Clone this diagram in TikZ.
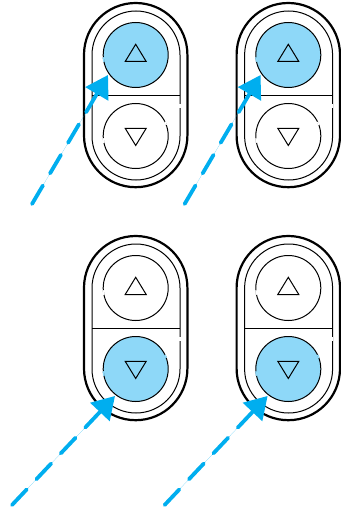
\documentclass[tikz,border=0pt]{standalone}
\usetikzlibrary{arrows.meta}
\definecolor{lightb}{HTML}{8ED8F8}
\definecolor{cyanb}{HTML}{00AEEF}
\tikzset{
  x=1pt,y=-1pt,
  outerbody/.style={draw=black,line width=2.2pt,fill=white},
  thinl/.style={draw=black,line width=1pt},
  btn/.style={circle,draw=black,line width=1pt,minimum size=65pt,inner sep=0pt,outer sep=0pt},
  tri/.style={draw=black,line width=1pt,line join=miter},
  pointer/.style={draw=cyanb,fill=cyanb,line width=3.8pt,line cap=round,dash pattern=on 21.5pt off 14pt,-{Triangle[length=22pt,width=26pt,sep=0pt]}},
}
% #1 name, #2 dx, #3 dy, #4 upper fill, #5 lower fill
\newcommand{\panel}[5]{%
  \begin{scope}[shift={(#2,#3)}]
    \draw[outerbody] (84,54.7) arc[start angle=180,end angle=0,x radius=51.7,y radius=-51.7]
       -- (187.4,135.5) arc[start angle=0,end angle=-180,x radius=51.7,y radius=-51.7] -- cycle;
    \draw[thinl] (92,55) arc[start angle=180,end angle=0,x radius=44,y radius=-44]
       -- (180,136) arc[start angle=0,end angle=-180,x radius=44,y radius=-44] -- cycle;
    \draw[white,line width=1.4pt] (180,104) -- (180,108);
    \draw[thinl] (92,95.3) -- (180,95.3);
    \node[btn,fill=#4] (#1u) at (135.7,55) {};
    \node[btn,fill=#5] (#1d) at (135.7,136) {};
    \draw[#4,line width=1.5pt] (135.7,55) ++(168:32.5) arc[start angle=168,end angle=176,radius=32.5];
    \draw[#5,line width=1.5pt] (135.7,136) ++(168:32.5) arc[start angle=168,end angle=176,radius=32.5];
    \draw[#5,line width=1.5pt] (135.7,136) ++(-26:32.5) arc[start angle=-26,end angle=-20,radius=32.5];
    \draw[tri] (135.7,44.3) -- (125.2,61.5) -- (146.2,61.5) -- cycle;
    \draw[tri] (135.7,145.5) -- (125.2,128.3) -- (146.2,128.3) -- cycle;
  \end{scope}}
\begin{document}
\begin{tikzpicture}
\useasboundingbox (0,0) rectangle (340,508);
\panel{a}{0}{0}{lightb}{white}
\panel{b}{152.6}{0}{lightb}{white}
\panel{c}{0}{233}{white}{lightb}
\panel{d}{152.6}{233}{white}{lightb}
\coordinate (sa) at (32,204); \coordinate (ta) at (108,75);
\coordinate (sb) at (184.6,204); \coordinate (tb) at (260.6,75);
\coordinate (sc) at (12,505); \coordinate (tc) at (115,396);
\coordinate (sd) at (164.6,505); \coordinate (td) at (267.6,396);
\draw[pointer] (sa) -- (ta);
\draw[pointer] (sb) -- (tb);
\draw[pointer] (sc) -- (tc);
\draw[pointer] (sd) -- (td);
\end{tikzpicture}
\end{document}
